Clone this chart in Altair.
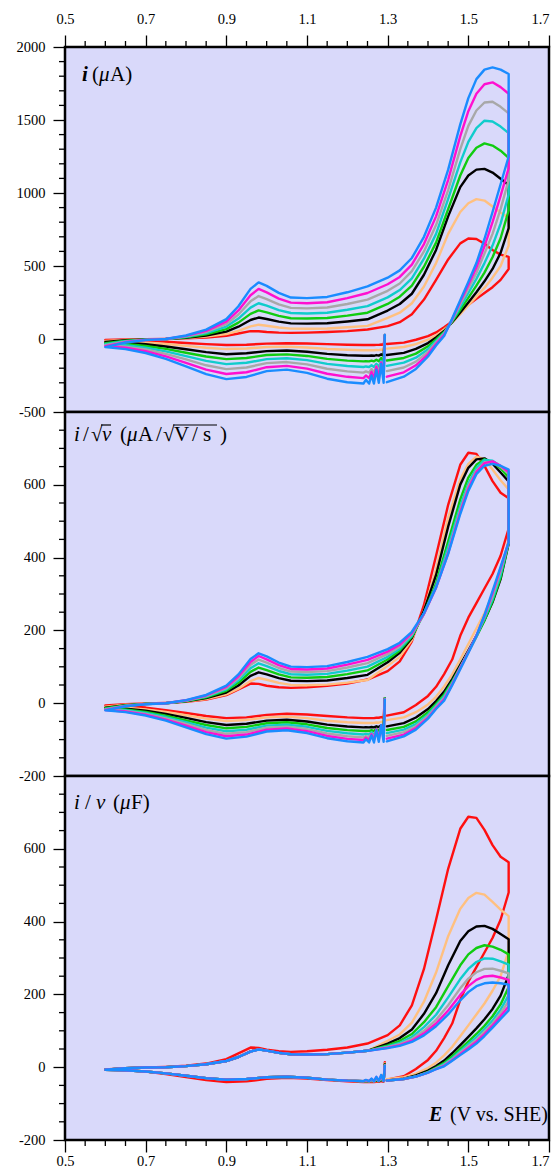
import altair as alt
import pandas as pd

# ---------------- data (currents in microampere) ----------------
series = ["1 V/s", "2 V/s", "3 V/s", "4 V/s", "5 V/s", "6 V/s", "7 V/s", "8 V/s"]
scan_rates = [1, 2, 3, 4, 5, 6, 7, 8]
colors = ["#FF1010", "#FFC080", "#000000", "#10CC10", "#10CCCC", "#A8A8A8", "#FF10D0", "#1A8CFF"]

# initial cathodic segment (start spike at 1.293 V, scanning down to 0.60 V)
E_cat = [1.293, 1.290, 1.284, 1.278, 1.272, 1.266, 1.260, 1.254, 1.246, 1.240,
         1.20, 1.15, 1.10, 1.05, 1.00, 0.95, 0.90, 0.85, 0.80, 0.75, 0.70, 0.65, 0.60]
red_cat = [14, -40, -38, -40, -40, -41, -41, -41, -41, -41, -39, -35, -31, -29, -32, -39, -41, -35, -27, -19, -12, -8, -6]
orange_cat = [20, -76, -72, -76, -75, -77, -77, -77, -77, -77, -74, -68, -58, -52, -55, -65, -69, -60, -47, -34, -24, -17, -14]
black_cat = [24, -114, -105, -114, -110, -115, -113, -115, -114, -115, -111, -102, -87, -79, -83, -98, -104, -90, -70, -51, -36, -26, -21]
green_cat = [27, -152, -130, -152, -142, -153, -148, -153, -152, -153, -148, -136, -116, -105, -110, -130, -138, -120, -94, -68, -48, -34, -28]
cyan_cat = [28, -190, -150, -190, -170, -192, -180, -192, -188, -192, -185, -170, -145, -132, -138, -163, -172, -150, -117, -85, -60, -43, -35]
gray_cat = [28, -228, -160, -228, -185, -230, -205, -230, -222, -230, -222, -204, -174, -158, -165, -195, -206, -180, -140, -102, -72, -52, -42]
magenta_cat = [28, -265, -160, -265, -190, -268, -225, -268, -250, -268, -259, -238, -203, -184, -193, -228, -240, -210, -164, -119, -84, -60, -49]
blue_cat = [28, -300, -170, -300, -210, -305, -250, -305, -280, -305, -296, -272, -232, -210, -220, -260, -275, -240, -187, -136, -96, -69, -56]

# anodic (forward) scan 0.60 -> 1.60 V
E_fwd = [0.60, 0.65, 0.70, 0.75, 0.80, 0.85, 0.90, 0.93, 0.96, 0.98, 1.00, 1.03, 1.06, 1.10, 1.15,
         1.20, 1.25, 1.30, 1.33, 1.36, 1.39, 1.42, 1.45, 1.48, 1.50, 1.52, 1.54, 1.56, 1.58, 1.60]
red_fwd = [-6, -3, -1, 1, 4, 10, 22, 38, 54, 53, 48, 44, 42, 44, 48,
           54, 65, 88, 115, 170, 270, 405, 545, 655, 688, 685, 652, 610, 578, 563]
orange_fwd = [-14, -6, -2, 0, 6, 16, 34, 56, 86, 98, 91, 79, 71, 70, 72,
              80, 90, 145, 180, 245, 360, 520, 720, 870, 930, 958, 948, 908, 866, 830]
black_fwd = [-21, -9, -3, 0, 9, 24, 51, 84, 130, 147, 137, 119, 107, 105, 108,
             120, 135, 195, 240, 310, 440, 610, 840, 1040, 1120, 1160, 1165, 1140, 1098, 1055]
green_fwd = [-28, -12, -4, 0, 12, 32, 68, 112, 172, 196, 182, 158, 142, 140, 144,
             160, 180, 240, 290, 365, 495, 660, 890, 1120, 1240, 1310, 1340, 1325, 1290, 1240]
cyan_fwd = [-35, -15, -5, 0, 15, 40, 85, 140, 215, 245, 228, 198, 178, 175, 180,
            200, 225, 285, 335, 415, 550, 720, 960, 1210, 1350, 1445, 1495, 1490, 1455, 1410]
gray_fwd = [-42, -18, -6, 0, 18, 48, 102, 168, 258, 294, 273, 237, 213, 210, 216,
            240, 270, 330, 380, 465, 600, 780, 1020, 1300, 1460, 1565, 1620, 1625, 1590, 1545]
magenta_fwd = [-49, -21, -7, 0, 21, 56, 119, 196, 300, 343, 319, 277, 249, 245, 252,
               280, 315, 375, 425, 510, 650, 840, 1090, 1390, 1560, 1680, 1745, 1758, 1725, 1680]
blue_fwd = [-56, -24, -8, 0, 24, 64, 136, 224, 343, 388, 364, 316, 284, 280, 288,
            320, 360, 420, 470, 555, 700, 900, 1160, 1470, 1650, 1780, 1845, 1860, 1845, 1815]

# final cathodic scan 1.60 -> 1.30 V
E_rev = [1.60, 1.58, 1.56, 1.54, 1.52, 1.50, 1.48, 1.46, 1.44, 1.42, 1.40, 1.37, 1.34, 1.298]
red_rev = [480, 405, 355, 315, 275, 235, 185, 120, 80, 45, 20, -5, -25, -34]
orange_rev = [640, 500, 420, 350, 290, 230, 170, 112, 65, 25, -5, -35, -55, -66]
black_rev = [760, 590, 480, 395, 320, 250, 182, 115, 55, 10, -28, -68, -95, -110]
green_rev = [880, 690, 560, 455, 365, 282, 200, 120, 48, -3, -50, -100, -130, -147]
cyan_rev = [990, 790, 640, 520, 412, 315, 220, 125, 42, -15, -70, -128, -162, -184]
gray_rev = [1090, 890, 720, 585, 452, 345, 240, 130, 35, -25, -88, -155, -195, -220]
magenta_rev = [1170, 980, 800, 635, 490, 370, 255, 135, 28, -35, -105, -180, -228, -258]
blue_rev = [1250, 1060, 870, 685, 520, 390, 265, 140, 20, -45, -120, -205, -258, -296]

# axis ticks
x_major = [0.5, 0.7, 0.9, 1.1, 1.3, 1.5, 1.7]
x_minor = [0.55, 0.6, 0.65, 0.75, 0.8, 0.85, 0.95, 1.0, 1.05, 1.15, 1.2, 1.25,
           1.35, 1.4, 1.45, 1.55, 1.6, 1.65]
y1_major = [-500, 0, 500, 1000, 1500, 2000]
y1_minor = [-400, -300, -200, -100, 100, 200, 300, 400, 600, 700, 800, 900,
            1100, 1200, 1300, 1400, 1600, 1700, 1800, 1900]
y23_major = [-200, 0, 200, 400, 600]
y23_minor = [-150, -100, -50, 50, 100, 150, 250, 300, 350, 450, 500, 550, 650, 700, 750]

# ---------------- table ----------------
CAT = [red_cat, orange_cat, black_cat, green_cat, cyan_cat, gray_cat, magenta_cat, blue_cat]
FWD = [red_fwd, orange_fwd, black_fwd, green_fwd, cyan_fwd, gray_fwd, magenta_fwd, blue_fwd]
REV = [red_rev, orange_rev, black_rev, green_rev, cyan_rev, gray_rev, magenta_rev, blue_rev]
rows = []
for name, v, c, f, r in zip(series, scan_rates, CAT, FWD, REV):
    k = 0
    for E, cur in list(zip(E_cat, c)) + list(zip(E_fwd, f)) + list(zip(E_rev, r)):
        rows.append({"s": name, "v": v, "E": E, "i": cur, "k": k})
        k += 1
df = pd.DataFrame(rows)

FONT = "Liberation Serif"
W, H1, H2, H3 = 484, 365, 364, 364
TICK = 1.3


def panel(expr, dom, h, y_major, y_minor, x_orient):
    xs = alt.Scale(domain=[0.5, 1.7], nice=False, zero=False)
    ys = alt.Scale(domain=dom, nice=False, zero=False)
    if x_orient is None:
        xax = None
    else:
        xax = alt.Axis(orient=x_orient, values=x_major, format=".1f", title=None, tickSize=12,
                       labelPadding=8.5 if x_orient == "top" else 2,
                       labelAlign={"condition": {"test": "datum.value >= 1.69", "value": "right"},
                                   "value": "center"},
                       labelFlush=False, labelOverlap=False)
    yax = alt.Axis(values=y_major, format="d", title=None, tickSize=12, labelPadding=8,
                   labelExpr="replace(datum.label, '\u2212', '-')",
                   labelFlush=False, labelOverlap=False)
    line = alt.Chart(df).transform_calculate(y=expr).mark_line(
        strokeWidth=2.4, clip=True, strokeJoin="round", strokeCap="round"
    ).encode(
        x=alt.X("E:Q", scale=xs, axis=xax),
        y=alt.Y("y:Q", scale=ys, axis=yax),
        color=alt.Color("s:N", scale=alt.Scale(domain=series, range=colors), legend=None),
        order=alt.Order("k:Q"),
    ).properties(width=W, height=h)
    ymin = alt.Chart(pd.DataFrame({"t": y_minor})).mark_rule(
        clip=False, color="black", strokeWidth=TICK
    ).encode(y=alt.Y("t:Q", scale=ys, axis=yax), x=alt.value(-6), x2=alt.value(0))
    layers = [line, ymin]
    if x_orient is not None:
        y0, y1 = (-6, 0) if x_orient == "top" else (h, h + 6)
        xmin = alt.Chart(pd.DataFrame({"t": x_minor})).mark_rule(
            clip=False, color="black", strokeWidth=TICK
        ).encode(x=alt.X("t:Q", scale=xs, axis=xax), y=alt.value(y0), y2=alt.value(y1))
        layers.append(xmin)
    return layers


def txt(s, x, y, style="normal", weight="normal", size=21):
    return alt.Chart(pd.DataFrame({"t": [s]})).mark_text(
        font=FONT, fontSize=size, fontStyle=style, fontWeight=weight, color="black",
        align="left", baseline="alphabetic"
    ).encode(text="t:N", x=alt.value(x), y=alt.value(y))


def overline(x1, x2, y):
    return alt.Chart(pd.DataFrame({"a": [0]})).mark_rule(color="black", strokeWidth=1.2).encode(
        x=alt.value(x1), x2=alt.value(x2), y=alt.value(y))


p1 = alt.layer(
    *panel("datum.i", [-500, 2000], H1, y1_major, y1_minor, "top"),
    txt("i", 17, 34, "italic", "bold"),
    txt("(", 27, 34),
    txt("μ", 34, 34, "italic"),
    txt("A)", 45, 34),
)

p2 = alt.layer(
    *panel("datum.i / sqrt(datum.v)", [-200, 800], H2, y23_major, y23_minor, None),
    txt("i", 9, 29, "italic"),
    txt("/", 18, 29),
    txt("√", 26, 29),
    txt("v", 37, 29, "italic"),
    overline(36, 46, 13),
    txt("(", 55, 29),
    txt("μ", 62, 29, "italic"),
    txt("A", 73, 29),
    txt("/", 91, 29),
    txt("√", 98, 29),
    txt("V", 109, 29),
    txt("/", 127, 29),
    txt("s", 138, 29),
    overline(108, 152, 13),
    txt(")", 155, 29),
)

p3 = alt.layer(
    *panel("datum.i / datum.v", [-200, 800], H3, y23_major, y23_minor, "bottom"),
    txt("i", 9, 33, "italic"),
    txt("/", 20, 33),
    txt("v", 31, 33, "italic"),
    txt("(", 48, 33),
    txt("μ", 55, 33, "italic"),
    txt("F)", 66, 33),
    txt("E", 364, 345, "italic", "bold", 20),
    txt("(V vs. SHE)", 385, 345, size=20),
)

chart = alt.vconcat(p1, p2, p3, spacing=0, bounds="flush").properties(
    padding={"left": 6, "top": 2, "right": 0, "bottom": 0}
).configure_view(
    stroke="black", strokeWidth=2.5, fill="#D9D9FA"
).configure_axis(
    labelFont=FONT, labelFontSize=14.5, labelColor="black",
    tickColor="black", tickWidth=TICK, domain=False, grid=False
)

chart.save("out.html", embed_options={"renderer": "svg", "actions": False})
